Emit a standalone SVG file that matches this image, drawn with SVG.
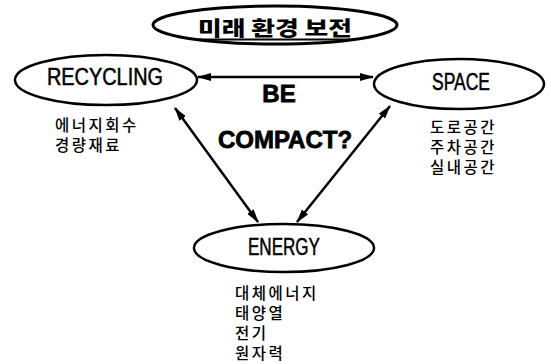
<svg xmlns="http://www.w3.org/2000/svg" width="551" height="364" viewBox="0 0 551 364">
<defs>
<marker id="ah" viewBox="0 0 14 8" refX="13" refY="4" markerWidth="14" markerHeight="8" markerUnits="userSpaceOnUse" orient="auto-start-reverse">
<path d="M0,0 L14,4 L0,8 z" fill="#000"/>
</marker>
</defs>
<style>
.ell{fill:#fff;stroke:#000;stroke-width:2.5}
.lbl{font-family:"Liberation Sans",Arial,sans-serif;font-size:23px;fill:#000;stroke:#000;stroke-width:0.5;text-anchor:middle}
.kr{font-family:"Noto Sans CJK KR",sans-serif;font-size:15.5px;font-weight:500;fill:#000;letter-spacing:2.5px}
.big{font-family:"Liberation Sans",Arial,sans-serif;font-size:24px;font-weight:bold;fill:#000;stroke:#000;stroke-width:0.8;text-anchor:middle}
.arr{stroke:#000;stroke-width:2.5;fill:none;marker-start:url(#ah);marker-end:url(#ah)}
</style>
<rect width="551" height="364" fill="#fff"/>
<g id="title">
<ellipse cx="275" cy="25" rx="122" ry="19" fill="#fff" stroke="#000" stroke-width="3"/>
<text x="275" y="36" text-anchor="middle" textLength="154" lengthAdjust="spacingAndGlyphs" style="font-family:'Noto Sans CJK KR',sans-serif;font-size:20px;font-weight:900">미래 환경 보전</text>
<line x1="198" y1="39.5" x2="353" y2="39.5" stroke="#000" stroke-width="2"/>
</g>
<g id="connectors">
<line class="arr" x1="198" y1="77" x2="373" y2="77"/>
<line class="arr" x1="175" y1="108" x2="258" y2="222"/>
<line class="arr" x1="390" y1="106" x2="297" y2="222"/>
</g>
<g id="recycling">
<ellipse class="ell" cx="106" cy="80" rx="91" ry="25"/>
<text class="lbl" x="105" y="85" textLength="116" lengthAdjust="spacingAndGlyphs">RECYCLING</text>
<text class="kr" x="55" y="131">에너지회수</text>
<text class="kr" x="55" y="151">경량재료</text>
</g>
<g id="space">
<ellipse class="ell" cx="459" cy="84" rx="85" ry="25"/>
<text class="lbl" x="461" y="90" textLength="58" lengthAdjust="spacingAndGlyphs">SPACE</text>
<text class="kr" x="430" y="133">도로공간</text>
<text class="kr" x="430" y="153">주차공간</text>
<text class="kr" x="430" y="173">실내공간</text>
</g>
<g id="energy">
<ellipse class="ell" cx="284" cy="248" rx="90" ry="24"/>
<text class="lbl" x="284" y="255" textLength="72" lengthAdjust="spacingAndGlyphs">ENERGY</text>
<text class="kr" x="235" y="299">대체에너지</text>
<text class="kr" x="235" y="319">태양열</text>
<text class="kr" x="235" y="339">전기</text>
<text class="kr" x="235" y="359">원자력</text>
</g>
<g id="center-text">
<text class="big" x="279" y="102">BE</text>
<text class="big" x="285" y="148">COMPACT?</text>
</g>
</svg>
